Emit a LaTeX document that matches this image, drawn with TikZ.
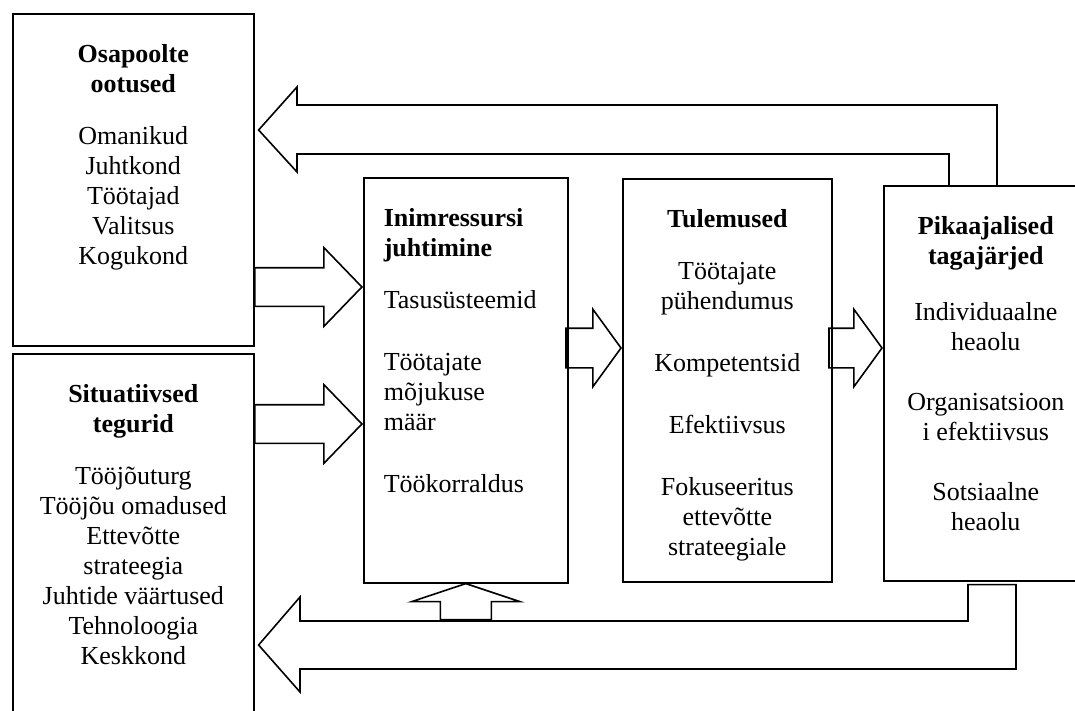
\documentclass[tikz,border=0pt]{standalone}
\usepackage{fontspec}
\setmainfont{Liberation Serif}
\usetikzlibrary{shapes.arrows,calc}

\begin{document}
\begin{tikzpicture}[x=0.5pt, y=-0.5pt, thick,
		box/.style={draw, anchor=north west, inner sep=0pt},
		txt/.style={anchor=north, align=center, inner sep=0pt, font=\fontsize{13}{15}\selectfont},
		barrow/.style={draw, single arrow, anchor=tip, inner xsep=0pt, single arrow head indent=0pt}]
		\useasboundingbox (0,0) rectangle (1075,711);

		% Draw the boxes
		\node[box, minimum width=120.5pt, minimum height=166pt] (osap) at (12,13) {};
		\node[box, minimum width=120.5pt, minimum height=183.5pt] (situ) at (12,353) {};
		\node[box, minimum width=102pt, minimum height=202.5pt] (ihj) at (363,177) {};
		\node[box, minimum width=104.5pt, minimum height=201.5pt] (tul) at (622,178) {};
		\node[box, minimum width=102pt, minimum height=197.5pt] (pik) at (883,185) {};

		% Texts in the boxes
		\node[txt] (osapT) at ($(osap.north)+(0,31)$) {\textbf{Osapoolte}\\\textbf{ootused}\\[11pt]
			Omanikud\\Juhtkond\\Töötajad\\Valitsus\\Kogukond};
		\node[txt] (situT) at ($(situ.north)+(0,31)$) {\textbf{Situatiivsed}\\\textbf{tegurid}\\[11pt]
			Tööjõuturg\\Tööjõu omadused\\Ettevõtte\\strateegia\\Juhtide väärtused\\Tehnoloogia\\Keskkond};
		\node[txt, anchor=north west, align=left] (ihjT) at ($(ihj.north west)+(20,31)$) {\textbf{Inimressursi}\\\textbf{juhtimine}\\[11pt]
			Tasusüsteemid\\[16pt]Töötajate\\mõjukuse\\määr\\[16pt]Töökorraldus};
		\node[txt] (tulT) at ($(tul.north)+(0,31)$) {\textbf{Tulemused}\\[11pt]
			Töötajate\\pühendumus\\[16pt]Kompetentsid\\[16pt]Efektiivsus\\[16pt]Fokuseeritus\\ettevõtte\\strateegiale};
		\node[txt] (pikT) at ($(pik.north)+(0,31)$) {\textbf{Pikaajalised}\\\textbf{tagajärjed}\\[13pt]
			Individuaalne\\heaolu\\[15pt]Organisatsioon\\i efektiivsus\\[15pt]Sotsiaalne\\heaolu};

		% Draw the arrows between the boxes
		\node[barrow, inner ysep=9.25pt, minimum height=53.5pt, minimum width=38.5pt, single arrow head extend=10pt, single arrow tip angle=92] (arrA) at (ihj.west |- 0,287) {};
		\node[barrow, inner ysep=9.25pt, minimum height=53.5pt, minimum width=38.5pt, single arrow head extend=10pt, single arrow tip angle=92] (arrB) at (ihj.west |- 0,424) {};
		\node[barrow, inner ysep=9.5pt, minimum height=27.5pt, minimum width=38pt, single arrow head extend=9.5pt, single arrow tip angle=108] (arrC) at (tul.west |- 0,348) {};
		\node[barrow, inner ysep=9.5pt, minimum height=26.5pt, minimum width=38pt, single arrow head extend=9.5pt, single arrow tip angle=108] (arrD) at (pik.west |- 0,348) {};

		% Small arrow up into the middle box
		\draw (ihj.south) -- ++(54,18) -- ++(-28.5,0) -- ++(0,18) -- ++(-51,0) -- ++(0,-18) -- ++(-28.5,0) -- cycle;

		% Draw the feedback arrows
		\draw (pik.north -| 997,0) -- (997,105) -- (297,105) -- (297,87) -- ($(osap.east |- 0,130)+(4,0)$)
			-- (297,172) -- (297,154) -- (949,154) -- (pik.north -| 949,0);
		\draw ($(pik.south -| 968,0)+(0,3)$) -- (968,621) -- (300,621) -- (300,597) -- ($(situ.east |- 0,645)+(4,0)$)
			-- (300,692) -- (300,669) -- (1016,669) -- ($(pik.south -| 1016,0)+(0,3)$) -- cycle;

	\end{tikzpicture}
\end{document}
